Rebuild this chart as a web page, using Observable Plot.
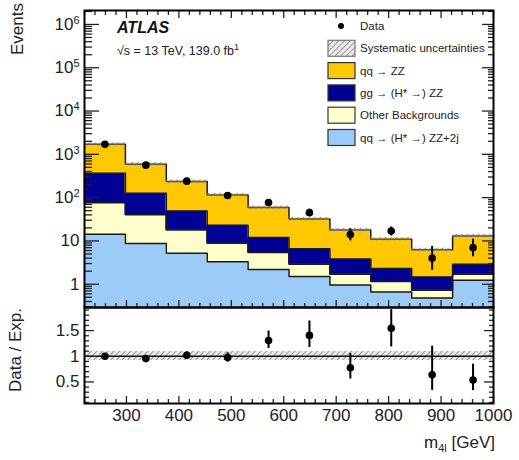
<!DOCTYPE html>
<html><head><meta charset="utf-8">
<script src="https://cdn.jsdelivr.net/npm/d3@7"></script>
<script src="https://cdn.jsdelivr.net/npm/@observablehq/plot@0.6"></script>
<style>
body{margin:0;background:#fff;font-family:"Liberation Sans",Arial,Helvetica,sans-serif;}
#wrap{position:relative;width:519px;height:460px;overflow:hidden;}
#wrap svg{position:absolute;left:0;}
</style></head><body>
<svg width="0" height="0" style="position:absolute">
  <defs>
    <pattern id="hatch" width="4" height="4" patternUnits="userSpaceOnUse" patternTransform="rotate(45)">
      <rect width="4" height="4" fill="rgba(200,200,200,0.35)"></rect>
      <line x1="0" y1="0" x2="0" y2="4" stroke="#666" stroke-width="1.3"></line>
    </pattern>
  </defs>
</svg>
<div id="wrap"></div>
<script>
// ---- data ----
const binEdges   = [220, 298, 376, 454, 532, 610, 688, 766, 844, 922, 1000];
const qqZZ       = [1335, 464, 186, 92, 47, 25.4, 14.2, 8.7, 4.8, 10.1];
const ggZZ       = [289, 86, 31, 14.2, 6.6, 3.7, 2.1, 1.15, 0.74, 1.2];
const otherBkg   = [61.8, 31.3, 12.8, 5.5, 3.2, 1.4, 0.74, 0.49, 0.25, 0.46];
const qqZZjj     = [14.2, 8.7, 5.2, 3.3, 2.2, 1.5, 0.96, 0.66, 0.48, 1.24];
const dataCounts = [1700, 563, 240, 112, 77, 45, 14, 17, 4, 7];
const dataLow    = [1660, 539, 225, 102, 68, 37.5, 10, 13, 2.1, 4.3];
const dataHigh   = [1740, 587, 255, 123, 88, 54, 19, 21, 7.5, 11];
const systRel    = [0.085, 0.085, 0.085, 0.085, 0.085, 0.085, 0.085, 0.085, 0.085, 0.085];

const layerNames  = ["qq → (H* →) ZZ+2j", "Other Backgrounds", "gg → (H* →) ZZ", "qq → ZZ"];
const layerColors = ["#9dcbf7", "#ffffcc", "#000094", "#ffc800"];
const layerValues = [qqZZjj, otherBkg, ggZZ, qqZZ];

const xTickValues = [300, 400, 500, 600, 700, 800, 900, 1000];
const xTickLabels = ["300", "400", "500", "600", "700", "800", "900", "1000"];
const yTickValues = [1, 10, 100, 1000, 10000, 100000, 1000000];
const yTickLabels = ["1", "10", "10^2", "10^3", "10^4", "10^5", "10^6"];
const rTickValues = [0.5, 1, 1.5];
const rTickLabels = ["0.5", "1", "1.5"];

const xDomain = [220, 1000];
const yDomain = [0.29, 2.1e6];
const rDomain = [0.08, 1.95];

// ---- derived tables ----
const nb = binEdges.length - 1;
const rects = [], steps = [];
let cum = new Array(nb).fill(0);
layerValues.forEach((vals, j) => {
  const lo = cum.slice();
  cum = cum.map((c, i) => c + vals[i]);
  for (let i = 0; i < nb; i++) {
    rects.push({x1: binEdges[i], x2: binEdges[i + 1], y1: j === 0 ? yDomain[0] : lo[i], y2: cum[i], color: layerColors[j]});
    steps.push({x: binEdges[i], y: cum[i], layer: j});
  }
  steps.push({x: binEdges[nb], y: cum[nb - 1], layer: j});
});
const total = cum;
const bins = d3.range(nb).map(i => ({
  x1: binEdges[i], x2: binEdges[i + 1], xc: (binEdges[i] + binEdges[i + 1]) / 2,
  tot: total[i], data: dataCounts[i], lo: dataLow[i], hi: dataHigh[i], syst: systRel[i]
}));

const xMinor = d3.range(220, 1001, 20).filter(v => !xTickValues.includes(v));
const yMinor = [];
for (let k = -1; k <= 6; k++) for (let m = 2; m <= 9; m++) {
  const v = m * Math.pow(10, k);
  if (v > yDomain[0] && v < yDomain[1]) yMinor.push(v);
}
const rMinor = d3.range(1, 20).map(v => v / 10).filter(v => v > rDomain[0] && v < rDomain[1] && !rTickValues.includes(v));

const blank = () => "";
const font = '"Liberation Sans", Arial, Helvetica, sans-serif';

// ---- main panel ----
const main = Plot.plot({
  width: 519, height: 308,
  marginLeft: 84, marginRight: 26, marginTop: 10, marginBottom: 1,
  style: {fontFamily: font, background: "transparent", color: "#222", overflow: "visible"},
  x: {domain: xDomain},
  y: {type: "log", domain: yDomain},
  color: {type: "identity"},
  marks: [
    Plot.rect(rects, {x1: "x1", x2: "x2", y1: "y1", y2: "y2", fill: "color", stroke: "color", strokeWidth: 0.6}),
    Plot.line(steps, {x: "x", y: "y", z: "layer", curve: "step-after", stroke: "#1a1a1a", strokeWidth: 1.5}),
    Plot.rect(bins, {x1: "x1", x2: "x2", y1: d => d.tot * (1 - d.syst), y2: d => d.tot * (1 + d.syst), fill: "url(#hatch)"}),
    Plot.ruleX(bins, {x: "xc", y1: "lo", y2: "hi", stroke: "black", strokeWidth: 2}),
    Plot.dot(bins, {x: "xc", y: "data", r: 3.8, fill: "black", stroke: null}),
    Plot.axisY({anchor: "left", ticks: yTickValues, tickSize: 0, tickPadding: 5, fontSize: 17,
      tickFormat: d => yTickLabels[yTickValues.indexOf(d)]}),
    Plot.axisY({anchor: "left", ticks: yTickValues, tickSize: -15, tickFormat: blank, strokeWidth: 1.3}),
    Plot.axisY({anchor: "left", ticks: yMinor, tickSize: -8, tickFormat: blank, strokeWidth: 1.3}),
    Plot.axisY({anchor: "right", ticks: yTickValues, tickSize: -12, tickFormat: blank, strokeWidth: 1.3}),
    Plot.axisY({anchor: "right", ticks: yMinor, tickSize: -6, tickFormat: blank, strokeWidth: 1.3}),
    Plot.axisX({anchor: "bottom", ticks: xTickValues, tickSize: -7, tickFormat: blank, strokeWidth: 1.3}),
    Plot.axisX({anchor: "bottom", ticks: xMinor, tickSize: -4, tickFormat: blank, strokeWidth: 1.3}),
    Plot.axisX({anchor: "top", ticks: xTickValues, tickSize: -7, tickFormat: blank, strokeWidth: 1.3}),
    Plot.axisX({anchor: "top", ticks: xMinor, tickSize: -4, tickFormat: blank, strokeWidth: 1.3}),
    Plot.frame({stroke: "black", strokeWidth: 2})
  ]
});
main.style.top = "0px";

// ---- ratio panel ----
const ratio = Plot.plot({
  width: 519, height: 154,
  marginLeft: 84, marginRight: 26, marginTop: 1, marginBottom: 57,
  style: {fontFamily: font, background: "transparent", color: "#222", overflow: "visible"},
  x: {domain: xDomain},
  y: {domain: rDomain},
  marks: [
    Plot.rect(bins, {x1: "x1", x2: "x2", y1: d => 1 - d.syst, y2: d => 1 + d.syst, fill: "url(#hatch)", shapeRendering: "crispEdges"}),
    Plot.ruleY([1], {stroke: "#111", strokeWidth: 1.6}),
    Plot.ruleX(bins, {x: "xc", y1: d => d.lo / d.tot, y2: d => d.hi / d.tot, stroke: "black", strokeWidth: 2}),
    Plot.dot(bins, {x: "xc", y: d => d.data / d.tot, r: 3.8, fill: "black", stroke: null}),
    Plot.axisY({anchor: "left", ticks: rTickValues, tickSize: 0, tickPadding: 5, fontSize: 17,
      tickFormat: d => rTickLabels[rTickValues.indexOf(d)]}),
    Plot.axisY({anchor: "left", ticks: rTickValues, tickSize: -10, tickFormat: blank, strokeWidth: 1.3}),
    Plot.axisY({anchor: "left", ticks: rMinor, tickSize: -5, tickFormat: blank, strokeWidth: 1.3}),
    Plot.axisY({anchor: "right", ticks: rTickValues, tickSize: -10, tickFormat: blank, strokeWidth: 1.3}),
    Plot.axisY({anchor: "right", ticks: rMinor, tickSize: -5, tickFormat: blank, strokeWidth: 1.3}),
    Plot.axisX({anchor: "bottom", ticks: xTickValues, tickSize: 0, tickPadding: 5, fontSize: 17,
      tickFormat: d => xTickLabels[xTickValues.indexOf(d)]}),
    Plot.axisX({anchor: "bottom", ticks: xTickValues, tickSize: -7, tickFormat: blank, strokeWidth: 1.3}),
    Plot.axisX({anchor: "bottom", ticks: xMinor, tickSize: -4, tickFormat: blank, strokeWidth: 1.3}),
    Plot.frame({stroke: "black", strokeWidth: 2})
  ]
});
ratio.style.top = "306px";

const wrap = document.getElementById("wrap");
wrap.appendChild(main);
wrap.appendChild(ratio);

// superscripts in log-axis labels
d3.select(main).selectAll("text").each(function() {
  const s = this.textContent;
  if (s.includes("^")) {
    const [b, e] = s.split("^");
    const t = d3.select(this);
    t.text("");
    t.append("tspan").text(b);
    t.append("tspan").attr("dy", "-0.55em").attr("font-size", "11px").text(e);
  }
});

// ---- overlay: titles, labels, legend ----
const ov = d3.select(wrap).append("svg")
  .attr("width", 519).attr("height", 460)
  .style("top", "0px").style("pointer-events", "none")
  .attr("font-family", font).attr("fill", "#222");

ov.append("text").attr("transform", "translate(23,3) rotate(-90)")
  .attr("text-anchor", "end").attr("font-size", 17).text("Events");
ov.append("text").attr("transform", "translate(21,350) rotate(-90)")
  .attr("text-anchor", "middle").attr("font-size", 17).text("Data / Exp.");

const xl = ov.append("text").attr("x", 495).attr("y", 448).attr("text-anchor", "end").attr("font-size", 17);
xl.append("tspan").text("m");
xl.append("tspan").attr("dy", 4).attr("font-size", 11).text("4l");
xl.append("tspan").attr("dy", -4).text(" [GeV]");

ov.append("text").attr("x", 117).attr("y", 33).attr("font-size", 16)
  .attr("font-weight", "bold").attr("font-style", "italic").attr("fill", "#111").text("ATLAS");
const en = ov.append("text").attr("x", 117).attr("y", 55).attr("font-size", 12.5);
en.append("tspan").text("√s = 13 TeV, 139.0 fb");
en.append("tspan").attr("dy", -5).attr("font-size", 9).text("1");

const legendItems = [
  {label: "Data", kind: "dot"},
  {label: "Systematic uncertainties", kind: "box", fill: "url(#hatch)", stroke: "#777"},
  {label: layerNames[3], kind: "box", fill: layerColors[3], stroke: "#333"},
  {label: layerNames[2], kind: "box", fill: layerColors[2], stroke: "#333"},
  {label: layerNames[1], kind: "box", fill: layerColors[1], stroke: "#333"},
  {label: layerNames[0], kind: "box", fill: layerColors[0], stroke: "#333"}
];
legendItems.forEach((it, i) => {
  const cy = 26 + i * 22.3;
  if (it.kind === "dot") {
    ov.append("circle").attr("cx", 341).attr("cy", cy).attr("r", 3).attr("fill", "black");
  } else {
    ov.append("rect").attr("x", 328).attr("y", cy - 8).attr("width", 27).attr("height", 16)
      .attr("fill", it.fill).attr("stroke", it.stroke).attr("stroke-width", 1.2);
  }
  ov.append("text").attr("x", 360).attr("y", cy).attr("dy", "0.35em")
    .attr("font-size", 11.5).text(it.label);
});
</script>
</body></html>
